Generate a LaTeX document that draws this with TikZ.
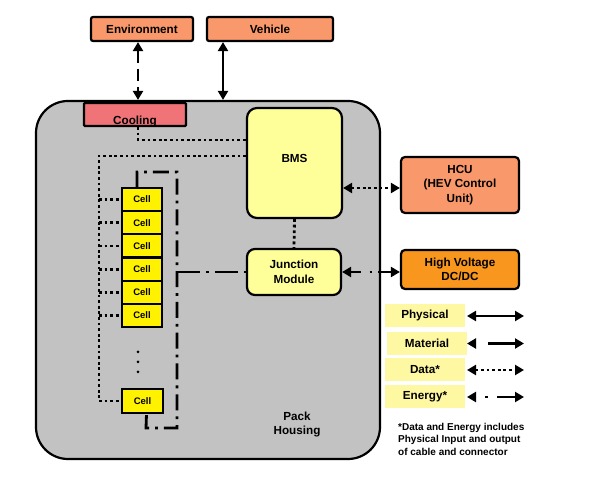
\documentclass[tikz,border=0pt]{standalone}
\usepackage{fontspec}
\setmainfont{Liberation Sans}
\usetikzlibrary{arrows.meta}
\definecolor{orgA}{HTML}{F9986A}
\definecolor{orgB}{HTML}{F8961E}
\definecolor{coolc}{HTML}{F07377}
\definecolor{housec}{HTML}{C2C2C2}
\definecolor{paley}{HTML}{FFFF99}
\definecolor{celly}{HTML}{FFF200}
\definecolor{legy}{HTML}{FFF8A3}
\begin{document}
\begin{tikzpicture}[x=1pt,y=-1pt,
  font=\bfseries\fontsize{11.7}{14.5}\selectfont,
  box/.style={draw, line width=2.2pt, align=center, inner sep=0pt},
  cellbox/.style={draw, line width=2.2pt, fill=celly, inner sep=0pt, minimum width=40pt, minimum height=23.2pt, font=\bfseries\fontsize{9.5}{11}\selectfont},
  legbox/.style={fill=legy, inner sep=0pt, minimum width=80pt, minimum height=23pt},
  both/.style={{Triangle[length=9pt,width=10pt]}-{Triangle[length=9pt,width=10pt]}},
  physl/.style={line width=2.6pt},
  datal/.style={line width=2.8pt, dash pattern=on 2.8pt off 2.8pt},
  energyl/.style={line width=2.8pt, dash pattern=on 16pt off 6pt on 2.8pt off 6pt},
]
\useasboundingbox (0,0) rectangle (590,478);

% top boxes
\node[box, fill=orgA, rounded corners=2pt, minimum width=102pt, minimum height=24pt] (env) at (142,29) {Environment};
\node[box, fill=orgA, rounded corners=2pt, minimum width=126pt, minimum height=24pt] (veh) at (270,29) {Vehicle};

% housing
\node[box, fill=housec, rounded corners=32pt, minimum width=344pt, minimum height=358pt] (house) at (208,280) {};
\node[align=center] (packtxt) at (297,424.5) {Pack\\Housing};

% cooling
\node[box, fill=coolc, rounded corners=1pt, minimum width=102pt, minimum height=23pt] (cool) at (135,114.5) {};
\begin{scope}
  \clip (84,104) rectangle (186,125);
  \node (cooltxt) at (135,121.5) {Cooling};
\end{scope}

% arrows to outside
\draw[line width=2.6pt, dash pattern=on 12pt off 6pt, both] ([xshift=-4pt]env.south) -- ([xshift=-4pt]env.south |- house.north);
\draw[physl, both] ([xshift=-47pt]veh.south) -- ([xshift=-47pt]veh.south |- house.north);

% BMS, junction
\node[box, fill=paley, rounded corners=10pt, minimum width=95pt, minimum height=110pt] (bms) at (294.5,163) {};
\node (bmstxt) at (294.5,158) {BMS};
\node[box, fill=paley, rounded corners=8pt, minimum width=94pt, minimum height=46pt] (jm) at (294,272) {Junction\\Module};

% external boxes
\node[box, fill=orgA, rounded corners=4pt, minimum width=118pt, minimum height=56pt] (hcu) at (460,185) {HCU\\(HEV Control\\Unit)};
\node[box, fill=orgB, rounded corners=4pt, minimum width=118pt, minimum height=39pt] (hv) at (460,269.5) {High Voltage\\DC/DC};

% cells
\foreach \i in {1,...,6} {
  \node[cellbox] (c\i) at (142,{199.6+(\i-1)*23.2}) {Cell};
}
\node[cellbox, minimum width=41pt, minimum height=24pt] (cN) at (142.5,401) {Cell};
\foreach \yy in {352,362,372} \fill (138,\yy) circle (1.5pt);

% data lines
\draw[datal] ([xshift=3pt]cool.south) |- ([yshift=23pt]bms.west);
\coordinate (busT) at (99,156);
\coordinate (busB) at (99,401);
\draw[datal] ([yshift=7pt]bms.west) -- (busT) -- (busB) -- (cN.west);
\foreach \i in {1,...,6} \draw[datal] (c\i.west -| busT) -- (c\i.west);
\draw[datal] (bms.south) -- (jm.north);
\draw[datal, both] ([yshift=-25pt]bms.east) -- ([yshift=-25pt]bms.east -| hcu.west);

% energy lines
\coordinate (eTL) at (137,172);
\coordinate (eTR) at (177,172);
\coordinate (eBR) at (177,428);
\coordinate (eBL) at (146,428);
\draw[energyl] ([xshift=-5pt]c1.north) -- (eTL) -- (eTR) -- (eBR) -- (eBL) -- ([xshift=4pt]cN.south);
\draw[energyl, dash pattern=on 23pt off 6pt on 2.8pt off 6pt] (jm.west -| eTR) -- (jm.west);
\draw[energyl, dash pattern=on 10pt off 9pt on 2.8pt off 6pt on 30pt, both] (jm.east) -- (jm.east -| hv.west);

% legend
\node[legbox] (lp) at (425,315.5) {Physical};
\node[legbox] (lm) at (427,343.5) {Material};
\node[legbox] (ld) at (425,370) {Data*};
\node[legbox] (le) at (425,396.5) {Energy*};
\coordinate (pa) at (467,316); \coordinate (pb) at (524,316);
\coordinate (ma) at (467,343.5); \coordinate (mb) at (524,343.5);
\coordinate (da) at (467,370); \coordinate (db) at (524,370);
\coordinate (ea) at (467,397); \coordinate (eb) at (524,397);
\draw[physl, both] (pa) -- (pb);
\draw[physl, both, dash pattern=on 1pt off 12pt on 30pt] (ma) -- (mb);
\draw[datal, both] (da) -- (db);
\draw[physl, both, dash pattern=on 1pt off 9pt on 2.8pt off 9pt on 30pt] (ea) -- (eb);

\node[anchor=north west, align=left, inner sep=0pt, font=\bfseries\fontsize{10}{12.5}\selectfont] (note) at (398,423) {*Data and Energy includes\\Physical Input and output\\of cable and connector};
\end{tikzpicture}
\end{document}
